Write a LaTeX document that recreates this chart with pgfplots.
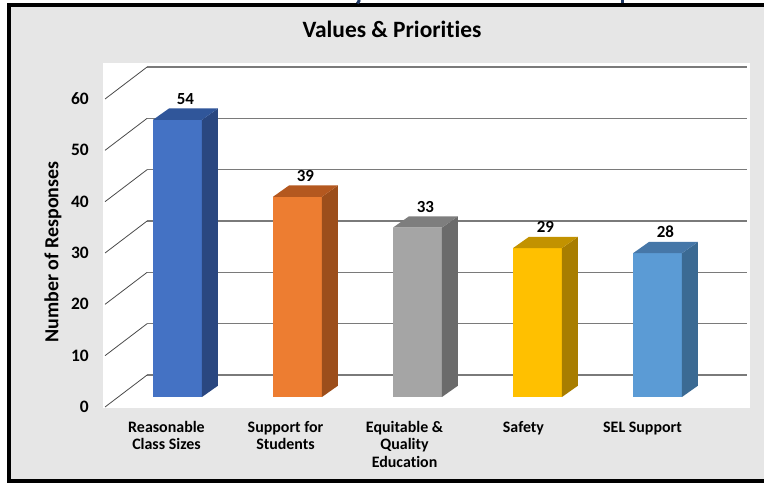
\documentclass[border=0pt]{standalone}
\usepackage{pgfplots}
\pgfplotsset{compat=1.18}
\usepackage{pgfplotstable}
\usepackage{fontspec}
\setmainfont{Carlito}[Ligatures=NoCommon]

\definecolor{bggray}{HTML}{E6E6E6}
\definecolor{titleblue}{HTML}{1F3864}
\definecolor{gridh}{HTML}{7A7A7A}
\definecolor{gridd}{HTML}{4A4A4A}
\definecolor{front0}{HTML}{4472C4}\definecolor{side0}{HTML}{2A4780}\definecolor{top0}{HTML}{30569A}
\definecolor{front1}{HTML}{ED7D31}\definecolor{side1}{HTML}{9C4E1B}\definecolor{top1}{HTML}{B4581F}
\definecolor{front2}{HTML}{A5A5A5}\definecolor{side2}{HTML}{6B6B6B}\definecolor{top2}{HTML}{7E7E7E}
\definecolor{front3}{HTML}{FFC000}\definecolor{side3}{HTML}{A87D00}\definecolor{top3}{HTML}{C29200}
\definecolor{front4}{HTML}{5B9BD5}\definecolor{side4}{HTML}{3B6A93}\definecolor{top4}{HTML}{4677A8}

\pgfplotstableread{
idx v
0 54
1 39
2 33
3 29
4 28
}\datatable

\begin{document}
\begin{tikzpicture}
\useasboundingbox (0,0) rectangle (764bp,485bp);
\fill[white] (0,0) rectangle (764bp,485bp);
\fill[bggray] (8.8bp,3.5bp) rectangle (764bp,479.7bp);
\draw[black, line width=4bp] (764bp,479.7bp) -- (8.8bp,479.7bp) -- (8.8bp,3.5bp) -- (764bp,3.5bp);
\draw[titleblue, line width=3bp] (359.5bp,485bp) -- (357.5bp,481.5bp);
\draw[titleblue, line width=3bp] (622bp,485bp) -- (622bp,481.5bp);
\node[font=\fontsize{23.5}{28}\selectfont\bfseries, anchor=base, inner sep=0pt] at (392bp,447.6bp) {Values \& Priorities};

\begin{axis}[
  at={(103bp,77bp)}, anchor=south west,
  scale only axis, width=647bp, height=345bp,
  xmin=-0.621, xmax=4.771, ymin=-0.195, ymax=67.01,
  clip=false,
  axis background/.style={fill=white},
  axis line style={draw=none},
  major tick length=0pt,
  tick style={draw=none},
  /pgf/number format/assume math mode=true,
  ytick={0,10,20,30,40,50,60},
  yticklabel style={font=\fontsize{17.5}{20}\selectfont\bfseries, inner sep=0pt, anchor=east, xshift=-14bp},
  xtick={-0.092,0.900,1.892,2.883,3.875},
  xticklabels={{\strut Reasonable\\Class Sizes},{\strut Support for\\Students},{\strut Equitable \&\\Quality\\Education},{\strut Safety},{\strut SEL Support}},
  xticklabel style={font=\fontsize{16}{17.8}\selectfont\bfseries, align=center, anchor=north, inner sep=0pt, yshift=-11.5bp},
  ylabel={Number of Responses},
  ylabel style={font=\fontsize{20}{24}\selectfont\bfseries, at={(axis description cs:-0.0773,0.452)}, anchor=center, rotate=0},
]
% gridlines in perspective
\pgfplotsinvokeforeach{0,10,20,30,40,50,60}{
  \pgfmathsetmacro\yb{#1+6.23}
  \addplot[draw=gridh, line width=1.6bp, mark=none] coordinates {(-0.2535,\yb) (4.746,\yb)};
  \addplot[draw=gridd, line width=0.8bp, mark=none] coordinates {(-0.604,#1) (-0.2535,\yb)};
}
% 3D bars
\pgfplotsinvokeforeach{0,1,2,3,4}{
  \pgfplotstablegetelem{#1}{v}\of\datatable
  \pgfmathsetmacro\vt{\pgfplotsretval+1.95}
  \pgfmathsetmacro\vtt{\pgfplotsretval+1.95+2.2}
  \pgfmathsetmacro\xl{#1-0.204}
  \pgfmathsetmacro\xr{#1+0.204}
  \pgfmathsetmacro\xrr{#1+0.204+0.133}
  \pgfmathsetmacro\xll{#1-0.204+0.133}
  \addplot[fill=front#1, draw=none, mark=none] coordinates {(\xl,1.95) (\xr,1.95) (\xr,\vt) (\xl,\vt)} --cycle;
  \addplot[fill=side#1, draw=none, mark=none] coordinates {(\xr,1.95) (\xrr,4.15) (\xrr,\vtt) (\xr,\vt)} --cycle;
  \addplot[fill=top#1, draw=none, mark=none] coordinates {(\xl,\vt) (\xr,\vt) (\xrr,\vtt) (\xll,\vtt)} --cycle;
}
% value labels
\addplot[draw=none, mark=none, nodes near coords, point meta=explicit symbolic,
  every node near coord/.append style={font=\fontsize{17}{20}\selectfont\bfseries, anchor=base, inner sep=0pt, yshift=4bp}]
  table[x expr=\thisrow{idx}+0.066, y expr=\thisrow{v}+4.15, meta=v]{\datatable};
\end{axis}
\end{tikzpicture}
\end{document}
